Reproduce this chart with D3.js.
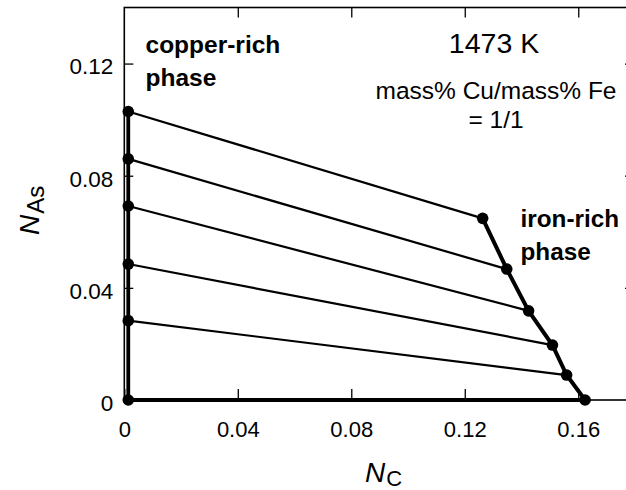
<!DOCTYPE html>
<html>
<head>
<meta charset="utf-8">
<script src="https://cdn.jsdelivr.net/npm/d3@7"></script>
<style>
  body { margin: 0; background: #fff; }
  text { font-family: "Liberation Sans", Arial, sans-serif; fill: #000; }
</style>
</head>
<body>
<div id="chart"></div>
<script>
// tie-line end points, copper-rich (left) and iron-rich (right) phases
var cuNC  = [0.0014, 0.0014, 0.0014, 0.0014, 0.0014, 0.0014];
var cuNAs = [0, 0.0283, 0.0485, 0.0692, 0.0860, 0.1029];
var feNC  = [0.1624, 0.1559, 0.1509, 0.1425, 0.1348, 0.1263];
var feNAs = [0, 0.0089, 0.0196, 0.0318, 0.0467, 0.0648];

var xTicks = [0, 0.04, 0.08, 0.12, 0.16];
var yTicks = [0, 0.04, 0.08, 0.12];

var width = 626, height = 490;

var x = d3.scaleLinear().domain([0, 0.18]).range([124.3, 635]);
var y = d3.scaleLinear().domain([0, 0.14]).range([400, 7.5]);

var fmt = function(d) { return d === 0 ? "0" : d.toFixed(2); };

var svg = d3.select("#chart")
  .append("svg")
    .attr("width", width)
    .attr("height", height);

// frame
svg.append("rect")
  .attr("x", x(0))
  .attr("y", y(0.14))
  .attr("width", x(0.18) - x(0))
  .attr("height", y(0) - y(0.14))
  .attr("fill", "none")
  .attr("stroke", "#000")
  .attr("stroke-width", 1.6);

// axes, ticks pointing inward
var bottom = svg.append("g")
  .attr("transform", "translate(0," + y(0) + ")")
  .call(d3.axisBottom(x).tickValues(xTicks).tickSize(-11).tickFormat(fmt));
bottom.selectAll("text")
  .attr("y", 21)
  .attr("dy", "0.71em")
  .style("font-size", "22px");

svg.append("g")
  .attr("transform", "translate(0," + y(0.14) + ")")
  .call(d3.axisTop(x).tickValues(xTicks.slice(1)).tickSize(-10).tickFormat(""));

var left = svg.append("g")
  .attr("transform", "translate(" + x(0) + ",0)")
  .call(d3.axisLeft(y).tickValues(yTicks).tickSize(-9).tickFormat(fmt));
left.selectAll("text")
  .attr("x", -11)
  .attr("dy", "0.46em")
  .style("font-size", "22.5px");

svg.append("g")
  .attr("transform", "translate(" + x(0.18) + ",0)")
  .call(d3.axisRight(y).tickValues(yTicks.slice(1)).tickSize(-10).tickFormat(""));

svg.selectAll(".domain").remove();
svg.selectAll(".tick line").attr("stroke", "#000").attr("stroke-width", 1.3);

// tie lines
var ties = d3.range(cuNC.length).map(function(i) {
  return { x1: cuNC[i], y1: cuNAs[i], x2: feNC[i], y2: feNAs[i] };
});

svg.selectAll(".tie")
  .data(ties)
  .enter().append("line")
    .attr("class", "tie")
    .attr("x1", function(d) { return x(d.x1); })
    .attr("y1", function(d) { return y(d.y1); })
    .attr("x2", function(d) { return x(d.x2); })
    .attr("y2", function(d) { return y(d.y2); })
    .attr("stroke", "#000")
    .attr("stroke-width", function(d, i) { return i === 0 ? 4 : 2.2; });

// phase boundaries
var line = d3.line()
  .x(function(d) { return x(d[0]); })
  .y(function(d) { return y(d[1]); });

svg.append("path")
  .datum(d3.zip(cuNC, cuNAs))
  .attr("d", line)
  .attr("fill", "none")
  .attr("stroke", "#000")
  .attr("stroke-width", 3.8);

svg.append("path")
  .datum(d3.zip(feNC, feNAs))
  .attr("d", line)
  .attr("fill", "none")
  .attr("stroke", "#000")
  .attr("stroke-width", 4);

// points
svg.selectAll(".cu")
  .data(d3.zip(cuNC, cuNAs))
  .enter().append("circle")
    .attr("cx", function(d) { return x(d[0]); })
    .attr("cy", function(d) { return y(d[1]); })
    .attr("r", 5.8)
    .attr("fill", "#000");

svg.selectAll(".fe")
  .data(d3.zip(feNC, feNAs))
  .enter().append("circle")
    .attr("cx", function(d) { return x(d[0]); })
    .attr("cy", function(d) { return y(d[1]); })
    .attr("r", 5.8)
    .attr("fill", "#000");

// annotations
function label(tx, ty, lines, size, weight, anchor, gap) {
  var t = svg.append("text")
    .attr("x", tx)
    .attr("y", ty)
    .attr("text-anchor", anchor)
    .style("font-size", size + "px")
    .style("font-weight", weight);
  lines.forEach(function(s, i) {
    t.append("tspan").attr("x", tx).attr("dy", i === 0 ? 0 : gap).text(s);
  });
}

label(145.5, 53.3, ["copper-rich", "phase"], 24.5, "bold", "start", 32.7);
label(520.5, 226.7, ["iron-rich", "phase"], 24.3, "bold", "start", 33.3);
label(494, 53.3, ["1473 K"], 28.5, "normal", "middle", 0);
label(496, 99.3, ["mass% Cu/mass% Fe", "= 1/1"], 24.5, "normal", "middle", 29);

// axis titles
var xt = svg.append("text")
  .attr("x", 365)
  .attr("y", 481.5)
  .style("font-size", "28px");
xt.append("tspan").style("font-style", "italic").text("N");
xt.append("tspan").attr("dy", 4).attr("dx", 1).style("font-size", "22px").text("C");

var yt = svg.append("text")
  .attr("transform", "translate(39,235) rotate(-90)")
  .style("font-size", "28px");
yt.append("tspan").style("font-style", "italic").text("N");
yt.append("tspan").attr("dy", 5).attr("dx", 1).style("font-size", "24px").text("As");
</script>
</body>
</html>
